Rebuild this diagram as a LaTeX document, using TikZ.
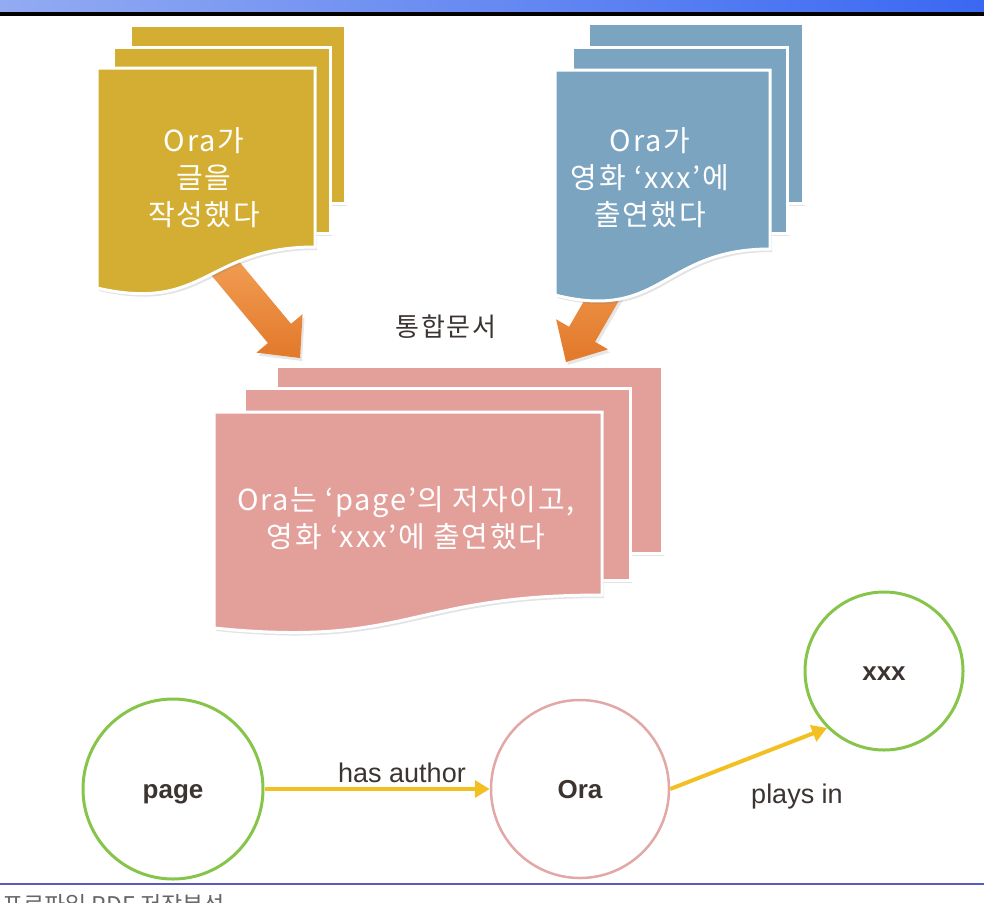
\documentclass[tikz,border=0pt]{standalone}
\usepackage{fontspec}
\setmainfont{Noto Sans CJK KR}
\newfontfamily\krfont[LetterSpace=6]{Noto Sans CJK KR}
\newfontfamily\lsans{Liberation Sans}
\usetikzlibrary{calc,shadows,arrows.meta}
\definecolor{docyellow}{HTML}{D4AE32}
\definecolor{docblue}{HTML}{7BA4C0}
\definecolor{docpink}{HTML}{E3A09B}
\definecolor{orA}{HTML}{F2A055}
\definecolor{orB}{HTML}{E2782A}
\definecolor{greenc}{HTML}{86C54A}
\definecolor{pinkc}{HTML}{E2A8A5}
\definecolor{linkc}{HTML}{F3C023}
\definecolor{labc}{HTML}{3B3431}
\definecolor{barL}{HTML}{93ABF2}
\definecolor{barR}{HTML}{3A68F2}
\definecolor{footl}{HTML}{5A5AC4}
\tikzset{
  docshape/.style={draw=white, line width=3pt, drop shadow={opacity=0.22, shadow xshift=2pt, shadow yshift=-3pt}},
  doctext/.style={text=white, align=center, font=\krfont\fontsize{29pt}{37pt}\selectfont, inner sep=0pt},
  blockarrow/.style={top color=orA, bottom color=orB, draw=none, drop shadow={opacity=0.2, shadow xshift=2pt, shadow yshift=-3pt}},
  graphnode/.style={circle, line width=3pt, minimum size=#1, inner sep=0pt, text height=18pt, text depth=0pt, text=labc, font=\lsans\bfseries\fontsize{26pt}{30pt}\selectfont},
  link/.style={draw=linkc, line width=4pt, -{Triangle[length=15pt,width=17pt]}},
  linklabel/.style={text=labc, font=\lsans\fontsize{27pt}{30pt}\selectfont, inner sep=0pt}
}
\begin{document}
\begin{tikzpicture}[x=1pt,y=-1pt]
\useasboundingbox (0,0) rectangle (984,902);
\clip (0,0) rectangle (984,902);
% top bar
\shade[left color=barL, right color=barR] (0,0) rectangle (984,12);
\fill[black] (0,12) rectangle (984,16);
% block arrows (behind documents)
\coordinate (la1) at (220,262);
\coordinate (la2) at (300,358);
\coordinate (lah) at ($(la2)!32pt!(la1)$);
\path[blockarrow] ($(la1)!15pt!90:(la2)$) -- ($(lah)!15pt!-90:(la1)$) -- ($(lah)!30pt!-90:(la1)$) -- (la2) -- ($(lah)!30pt!90:(la1)$) -- ($(lah)!15pt!90:(la1)$) -- ($(la1)!15pt!-90:(la2)$) -- cycle;
\coordinate (ra1) at (632,248);
\coordinate (ra2) at (566,362);
\coordinate (rah) at ($(ra2)!32pt!(ra1)$);
\path[blockarrow] ($(ra1)!15pt!90:(ra2)$) -- ($(rah)!15pt!-90:(ra1)$) -- ($(rah)!30pt!-90:(ra1)$) -- (ra2) -- ($(rah)!30pt!90:(ra1)$) -- ($(rah)!15pt!90:(ra1)$) -- ($(ra1)!15pt!-90:(ra2)$) -- cycle;
% yellow documents
\path[docshape, fill=docyellow] (130,25) rectangle (345,203);
\path[docshape, fill=docyellow] (113,47) rectangle (330,233);
\path[docshape, fill=docyellow] (97,68) -- (315,68) -- (315,247) .. controls (206,247) and (206,313) .. (97,288) -- cycle;
\node[doctext] (ytext) at (204,178) {Ora가\\글을\\작성했다};
% blue documents
\path[docshape, fill=docblue] (588,23) rectangle (803,203);
\path[docshape, fill=docblue] (572,47) rectangle (787,233);
\path[docshape, fill=docblue] (555,70) -- (770,70) -- (770,249) .. controls (662,249) and (662,322) .. (555,295) -- cycle;
\node[doctext] (btext) at (650,178) {Ora가\\영화 ‘xxx’에\\출연했다};
% merged document
\node[text=labc, font=\krfont\fontsize{26pt}{30pt}\selectfont, inner sep=0pt] (merged) at (446,327) {통합문서};
\path[docshape, fill=docpink] (276,366) rectangle (662,553);
\path[docshape, fill=docpink] (244,388) rectangle (630,580);
\path[docshape, fill=docpink] (214,412) -- (602,412) -- (602,595) .. controls (408,595) and (408,648) .. (214,628) -- cycle;
\node[doctext] (ptext) at (406,518) {Ora는 ‘page’의 저자이고,\\영화 ‘xxx’에 출연했다};
% graph
\node[graphnode=180pt, draw=greenc] (page) at (173,789) {page};
\node[graphnode=178pt, draw=pinkc, line width=2.5pt] (ora) at (580,789) {Ora};
\node[graphnode=158pt, draw=greenc] (xxx) at (884,671) {xxx};
\draw[link] (page) -- (ora);
\draw[link] (ora.east) -- (xxx.225);
\node[linklabel] (hasauthor) at (402,773) {has author};
\node[linklabel] (playsin) at (797,797) {plays in};
% footer
\draw[footl, line width=1.5pt] (0,884) -- (984,884);
\node[anchor=base west, text=black!60, font=\fontsize{23pt}{26pt}\selectfont, inner sep=0pt] (footer) at (2,913) {프로파일 RDF 저장분석};
\end{tikzpicture}
\end{document}
